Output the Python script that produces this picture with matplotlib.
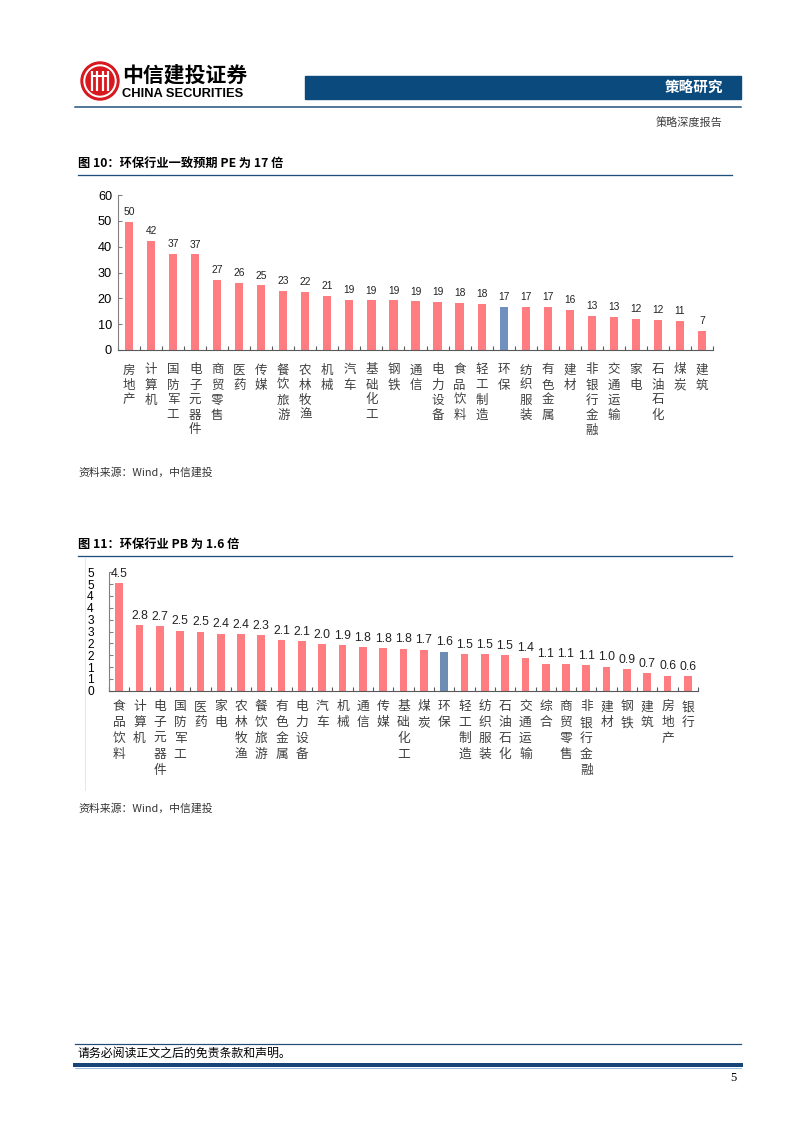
import numpy as np
import matplotlib
matplotlib.use('Agg')
from matplotlib import pyplot as plt
from matplotlib import patches, transforms
from matplotlib.ticker import FuncFormatter

plt.rcParams['font.family'] = ['Noto Sans CJK SC', 'DejaVu Sans']

W, H = 802, 1133

# Figure 10: consensus forward PE by industry
pe_names = ['房地产', '计算机', '国防军工', '电子元器件', '商贸零售', '医药', '传媒',
            '餐饮旅游', '农林牧渔', '机械', '汽车', '基础化工', '钢铁', '通信',
            '电力设备', '食品饮料', '轻工制造', '环保', '纺织服装', '有色金属', '建材',
            '非银行金融', '交通运输', '家电', '石油石化', '煤炭', '建筑']
pe_values = [49.7, 42.2, 37.3, 37.0, 27.1, 25.8, 25.0, 23.0, 22.4, 20.8, 19.4, 19.2,
             19.2, 18.8, 18.6, 18.1, 17.8, 16.6, 16.6, 16.6, 15.6, 13.3, 12.9, 12.1,
             11.6, 11.4, 7.4]
pe_ticks = [0, 10, 20, 30, 40, 50, 60]

# Figure 11: PB by industry
pb_names = ['食品饮料', '计算机', '电子元器件', '国防军工', '医药', '家电', '农林牧渔',
            '餐饮旅游', '有色金属', '电力设备', '汽车', '机械', '通信', '传媒', '基础化工',
            '煤炭', '环保', '轻工制造', '纺织服装', '石油石化', '交通运输', '综合',
            '商贸零售', '非银行金融', '建材', '钢铁', '建筑', '房地产', '银行']
pb_values = [4.54, 2.77, 2.72, 2.54, 2.49, 2.41, 2.38, 2.34, 2.14, 2.08, 1.97, 1.93,
             1.84, 1.80, 1.77, 1.73, 1.64, 1.54, 1.54, 1.49, 1.39, 1.14, 1.14, 1.07,
             1.01, 0.90, 0.74, 0.64, 0.62]
pb_ticks = [0, 0.5, 1, 1.5, 2, 2.5, 3, 3.5, 4, 4.5, 5]

highlight = '环保'
PINK = '#FF7C80'
NAVY = '#1f4e79'

fig = plt.figure(figsize=(W / 100, H / 100), dpi=100)

# page layer in pixel coordinates
bg = fig.add_axes([0, 0, 1, 1])
bg.set_xlim(0, W)
bg.set_ylim(H, 0)
bg.axis('off')


def px_axes(left, top, right, bottom):
    return fig.add_axes([left / W, 1 - bottom / H, (right - left) / W, (bottom - top) / H])


def lw(px):
    return px * 0.72


# ---- header ----
bg.add_patch(patches.Circle((100, 81), 19, color='#d7181f'))
bg.add_patch(patches.Circle((100, 81), 16, color='white'))
bg.add_patch(patches.Circle((100, 81), 14, color='#d7181f'))
for dx in (-8, -3, 3, 8):
    bg.plot([100 + dx, 100 + dx], [71, 91], color='white', lw=lw(2.2), solid_capstyle='butt')
bg.plot([92, 108], [76, 76], color='white', lw=lw(2))
bg.text(122, 75, '中信建投证券', fontsize=15, fontweight='bold', va='center', ha='left')
bg.text(122, 94, 'CHINA SECURITIES', fontsize=9.3, fontweight='bold',
        family=['Liberation Sans', 'DejaVu Sans'], va='center', ha='left')

bg.add_patch(patches.Rectangle((305, 76), 436, 23, color='#0b4a7d'))
bg.text(723, 88, '策略研究', color='white', fontsize=10.5, fontweight='bold', ha='right', va='center')
bg.plot([75, 741], [107, 107], color=NAVY, lw=lw(1.5))
bg.text(722, 123, '策略深度报告', color='#404040', fontsize=8, ha='right', va='center')

# ---- titles, rules and sources ----
for y_title, title in [(163, '图 10：环保行业一致预期 PE 为 17 倍'), (544, '图 11：环保行业 PB 为 1.6 倍')]:
    bg.text(78, y_title, title, fontsize=8.8, fontweight='bold', ha='left', va='center')
    bg.plot([78, 732], [y_title + 11.5, y_title + 11.5], color=NAVY, lw=lw(1.3))

for y_src in (472, 808):
    bg.text(78, y_src, '资料来源：Wind，中信建投', fontsize=7.8, style='italic',
            color='#333333', ha='left', va='center')

bg.plot([85, 85], [558, 790], color='#e6e6e6', lw=lw(1))

# ---- footer ----
bg.plot([75, 741], [1044, 1044], color=NAVY, lw=lw(1.2))
bg.text(78, 1053, '请务必阅读正文之后的免责条款和声明。', fontsize=8.6, ha='left', va='center')
bg.plot([75, 741], [1065, 1065], color='#17457a', lw=lw(4))
bg.plot([75, 741], [1067.5, 1067.5], color='#9dc3e6', lw=lw(1))
bg.text(733, 1078, '5', fontsize=9, family=['Liberation Serif', 'DejaVu Serif'], ha='center', va='center')


def bar_chart(ax, names, values, ticks, tick_fmt, val_fmt, bar_w, blue, val_size, val_off,
              tick_size, tick_pad, char_dy, char_step, char_size):
    x = np.arange(len(names))
    colors = [blue if n == highlight else PINK for n in names]
    ax.bar(x, values, width=bar_w, color=colors, zorder=2)
    ax.set_xlim(-0.5, len(names) - 0.5)
    ax.set_ylim(ticks[0], ticks[-1])
    ax.set_facecolor('none')

    for side in ('top', 'right'):
        ax.spines[side].set_visible(False)
    ax.spines['bottom'].set_color('#595959')
    ax.spines['left'].set_color('#808080')

    ax.set_xticks(np.arange(len(names) + 1) - 0.5)
    ax.set_xticklabels([])
    ax.tick_params(axis='x', length=3, width=0.8, color='#595959', direction='in')
    ax.set_yticks(ticks)
    ax.yaxis.set_major_formatter(FuncFormatter(tick_fmt))
    ax.tick_params(axis='y', length=3, width=0.8, color='#808080', direction='in',
                   labelsize=tick_size, pad=tick_pad)
    for lab in ax.get_yticklabels():
        lab.set_family(['Liberation Sans', 'DejaVu Sans'])

    for i, v in enumerate(values):
        ax.annotate(val_fmt(v), (i, v), xytext=(0, val_off), textcoords='offset points',
                    ha='center', va='bottom', fontsize=val_size, color='#222222',
                    family=['Liberation Sans', 'DejaVu Sans'])

    base = ax.get_xaxis_transform()
    for i, name in enumerate(names):
        for k, ch in enumerate(name):
            tr = transforms.offset_copy(base, fig=fig, x=0, y=-(char_dy + k * char_step), units='dots')
            ax.text(i, 0, ch, transform=tr, ha='center', va='center',
                    fontsize=char_size, color='#404040')


ax1 = px_axes(118, 195, 713, 350)
bar_chart(ax1, pe_names, pe_values, pe_ticks,
          lambda v, _: f'{v:.0f}', lambda v: f'{v:.0f}',
          0.37, '#7090BF', 7.4, 3.5, 9.2, 4.3, 20, 15, 9)

ax2 = px_axes(109, 572.3, 698, 690.7)
bar_chart(ax2, pb_names, pb_values, pb_ticks,
          lambda v, _: str(int(np.floor(v + 0.5))), lambda v: f'{v:.1f}',
          0.38, '#6D8DB3', 8.8, 2.5, 8.6, 11, 16, 16, 9.2)

fig.savefig('out.png', dpi=100)
